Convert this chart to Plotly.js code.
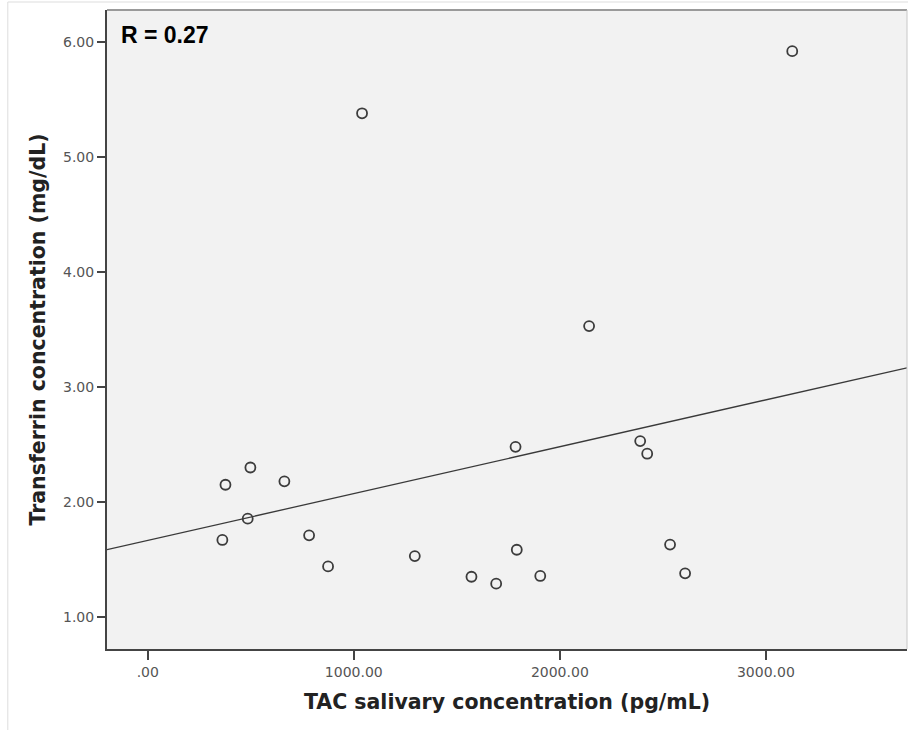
<!DOCTYPE html>
<html>
<head>
<meta charset="utf-8">
<script src="https://cdn.plot.ly/plotly-3.0.1.min.js"></script>
<style>
  html, body { margin: 0; padding: 0; background: #ffffff; }
  #chart { width: 908px; height: 730px; }
</style>
</head>
<body>
<div id="chart"></div>
<script>
// TAC salivary concentration (pg/mL)
const tacValues = [362, 377, 485, 498, 663, 783, 875, 1040, 1296, 1571,
                   1691, 1785, 1791, 1905, 2142, 2390, 2424, 2535, 2608, 3128];
// Transferrin concentration (mg/dL)
const transferrinValues = [1.67, 2.15, 1.855, 2.30, 2.18, 1.71, 1.44, 5.38, 1.53, 1.35,
                           1.29, 2.48, 1.585, 1.357, 3.53, 2.53, 2.42, 1.63, 1.38, 5.92];

const xTickVals = [0, 1000, 2000, 3000];
const xTickText = ['.00', '1000.00', '2000.00', '3000.00'];
const yTickVals = [1, 2, 3, 4, 5, 6];
const yTickText = ['1.00', '2.00', '3.00', '4.00', '5.00', '6.00'];
const xRange = [-198, 3685];
const yRange = [0.722, 6.278];
const rLabel = 'R = 0.27';

// least-squares fit line through the data
const n = tacValues.length;
const mx = tacValues.reduce((a, b) => a + b, 0) / n;
const my = transferrinValues.reduce((a, b) => a + b, 0) / n;
let sxy = 0, sxx = 0;
for (let i = 0; i < n; i++) {
  sxy += (tacValues[i] - mx) * (transferrinValues[i] - my);
  sxx += (tacValues[i] - mx) * (tacValues[i] - mx);
}
const slope = sxy / sxx;
const intercept = my - slope * mx;
const fitX = [xRange[0], xRange[1]];
const fitY = fitX.map(v => intercept + slope * v);

const traces = [
  {
    x: fitX, y: fitY, type: 'scatter', mode: 'lines',
    line: { color: '#3a3a3a', width: 1.3 },
    hoverinfo: 'skip', showlegend: false
  },
  {
    x: tacValues, y: transferrinValues, type: 'scatter', mode: 'markers',
    marker: { symbol: 'circle-open', size: 10, color: '#3c3c3c', line: { width: 1.8, color: '#3c3c3c' } },
    showlegend: false
  }
];

const tickFont = { family: 'DejaVu Sans', size: 14, color: '#555555' };
const titleFont = { family: 'DejaVu Sans', size: 20.5, color: '#222222', weight: 'bold' };

const layout = {
  width: 908, height: 730,
  margin: { l: 107, r: 1, t: 10, b: 81, pad: 0 },
  paper_bgcolor: '#ffffff',
  plot_bgcolor: '#f2f2f2',
  showlegend: false,
  xaxis: {
    range: xRange, tickvals: xTickVals, ticktext: xTickText,
    ticks: 'outside', ticklen: 9, tickwidth: 2, tickcolor: '#444444',
    showline: true, linecolor: '#444444', linewidth: 2,
    showgrid: false, zeroline: false, tickfont: tickFont,
    title: { text: 'TAC salivary concentration (pg/mL)', font: titleFont, standoff: 16 },
    fixedrange: true
  },
  yaxis: {
    range: yRange, tickvals: yTickVals, ticktext: yTickText,
    ticks: 'outside', ticklen: 8, tickwidth: 2, tickcolor: '#444444',
    showline: true, linecolor: '#444444', linewidth: 2,
    showgrid: false, zeroline: false, tickfont: tickFont,
    title: { text: 'Transferrin concentration (mg/dL)', font: titleFont, standoff: 12 },
    fixedrange: true
  },
  shapes: [
    { type: 'line', xref: 'paper', yref: 'paper', x0: 0, x1: 1, y0: 1, y1: 1,
      line: { color: '#9a9a9a', width: 2 } },
    { type: 'line', xref: 'paper', yref: 'paper', x0: 1, x1: 1, y0: 0, y1: 1,
      line: { color: '#c8c8c8', width: 1 } },
    { type: 'line', xref: 'paper', yref: 'paper', x0: -0.124, x1: -0.124, y0: -0.127, y1: 1.0125,
      line: { color: '#dddddd', width: 1 } },
    { type: 'line', xref: 'paper', yref: 'paper', x0: -0.124, x1: 1.01, y0: 1.0125, y1: 1.0125,
      line: { color: '#dddddd', width: 1 } }
  ],
  annotations: [
    { text: '<b>' + rLabel + '</b>', xref: 'paper', yref: 'paper',
      x: 0.015, y: 0.985, xanchor: 'left', yanchor: 'top', showarrow: false,
      font: { family: 'Liberation Sans', size: 23, color: '#000000' } }
  ]
};

Plotly.newPlot('chart', traces, layout, { displayModeBar: false, staticPlot: true });
</script>
</body>
</html>
